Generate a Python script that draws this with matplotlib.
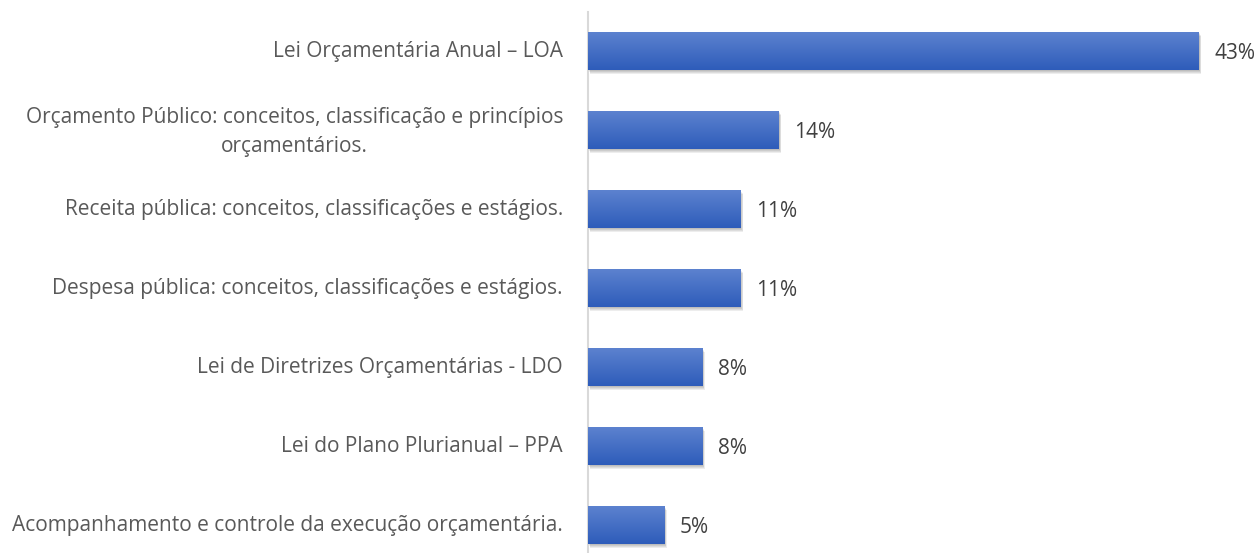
import numpy as np
import matplotlib
matplotlib.use("Agg")
import matplotlib.pyplot as plt
import matplotlib.patheffects as pe

categories = [
    "Lei Orçamentária Anual – LOA",
    "Orçamento Público: conceitos, classificação e princípios\norçamentários.",
    "Receita pública: conceitos, classificações e estágios.",
    "Despesa pública: conceitos, classificações e estágios.",
    "Lei de Diretrizes Orçamentárias - LDO",
    "Lei do Plano Plurianual – PPA",
    "Acompanhamento e controle da execução orçamentária.",
]
counts = [16, 5, 4, 4, 3, 3, 2]
total = sum(counts)
values = [100.0 * c / total for c in counts]
value_labels = [f"{round(v)}%" for v in values]

W, H = 1260, 553
fig = plt.figure(figsize=(W / 100, H / 100), dpi=100)
plt.rcParams['font.family'] = ['Open Sans', 'DejaVu Sans']

left_px = 588
top_px = 11.5
bottom_px = 564.5
ax = fig.add_axes([left_px / W, (H - bottom_px) / H, (W - left_px) / W, (bottom_px - top_px) / H])

y = np.arange(len(categories))
bars = ax.barh(y, values, height=0.48, color='#4471c4', zorder=2)

top_col = np.array([92, 130, 207]) / 255
bot_col = np.array([46, 92, 186]) / 255
grad = np.linspace(0, 1, 64)[:, None, None]
img = top_col * (1 - grad) + bot_col * grad  # rows: top->bottom

shadow = [pe.SimplePatchShadow(offset=(0.5 + 0.4 * k, -1.0 - 0.7 * k), shadow_rgbFace='#000000', alpha=0.07)
          for k in range(4)]
for b in bars:
    b.set_path_effects(shadow + [pe.Normal()])
    x0, y0 = b.get_x(), b.get_y()
    w, h = b.get_width(), b.get_height()
    im = ax.imshow(img, extent=(x0, x0 + w, y0 + h, y0), aspect='auto', zorder=3,
                   interpolation='bilinear')
    im.set_clip_path(b)

ax.set_xlim(0, (W - left_px) / (611 / values[0]))
ax.set_ylim(len(categories) - 0.5, -0.5)

for yi, v, lab in zip(y, values, value_labels):
    ax.annotate(lab, (v, yi), xytext=(11, -2), textcoords='offset points',
                va='center', ha='left', fontsize=15, color='#404040')

ytrans = ax.get_yaxis_transform()
for yi, cat in zip(y, categories):
    dy = -1.5 if '\n' in cat else -0.6
    ax.annotate(cat, (0, yi), xycoords=ytrans, xytext=(-18, dy), textcoords='offset points',
                va='center', ha='right', multialignment='center', fontsize=15,
                color='#595959', linespacing=1.55, annotation_clip=False)

ax.set_yticks([])
ax.set_xticks([])
for s in ['top', 'right', 'bottom']:
    ax.spines[s].set_visible(False)
ax.spines['left'].set_color('#d9d9d9')
ax.spines['left'].set_linewidth(1.5)

fig.savefig('out.png', dpi=100)
